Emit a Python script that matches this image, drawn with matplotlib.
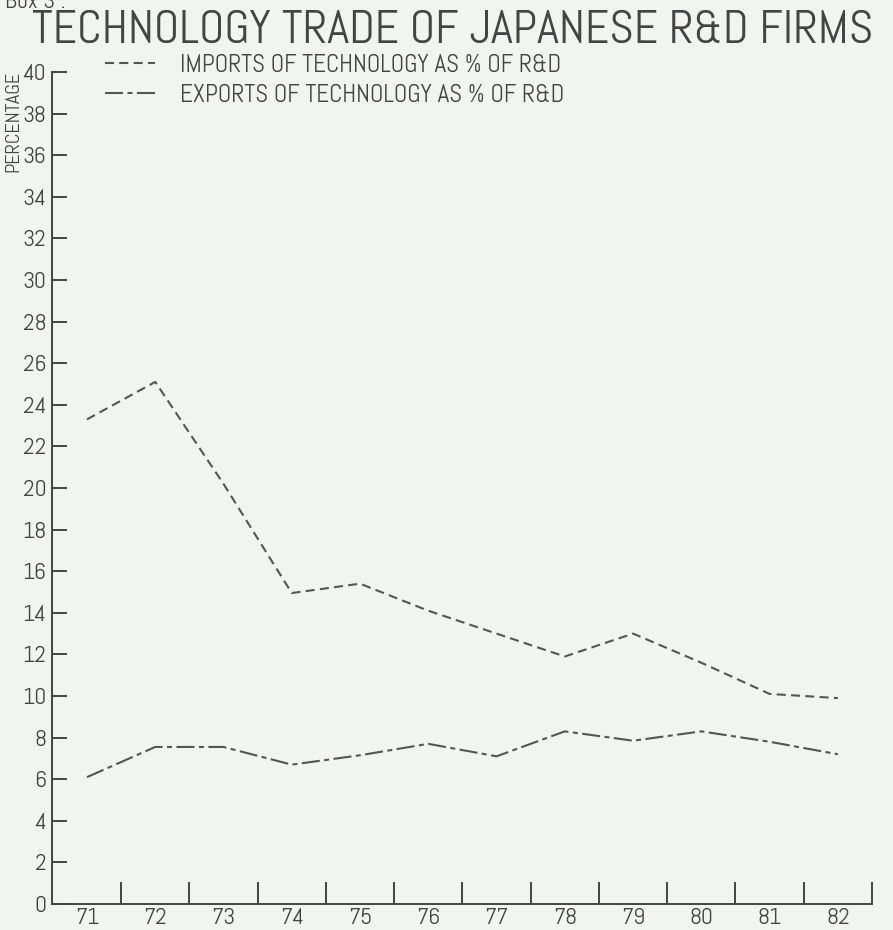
import matplotlib
matplotlib.use("Agg")
import matplotlib.pyplot as plt

# ---- data ----
years = [71, 72, 73, 74, 75, 76, 77, 78, 79, 80, 81, 82]
year_labels = ["71", "72", "73", "74", "75", "76", "77", "78", "79", "80", "81", "82"]
imports_pct = [23.3, 25.1, 20.2, 14.95, 15.4, 14.1, 13.0, 11.9, 13.0, 11.6, 10.1, 9.9]
exports_pct = [6.1, 7.55, 7.55, 6.7, 7.15, 7.7, 7.1, 8.3, 7.85, 8.3, 7.8, 7.2]
y_ticks = list(range(0, 41, 2))
title = "TECHNOLOGY TRADE OF JAPANESE R&D FIRMS"
label_imports = "IMPORTS OF TECHNOLOGY AS % OF R&D"
label_exports = "EXPORTS OF TECHNOLOGY AS % OF R&D"
y_label = "PERCENTAGE"

plt.rcParams["font.family"] = ["Abel", "Liberation Sans", "DejaVu Sans"]
plt.rcParams["lines.scale_dashes"] = False

ink = "#444444"
line_col = "#555555"
bg = "#f2f4ef"

W, H = 893, 930
fig = plt.figure(figsize=(W / 100, H / 100), dpi=100, facecolor=bg)

def fx(px):
    return px / W

def fy(py):
    return 1 - py / H

left, right, top, bottom = 52, 872, 72, 904
ax = fig.add_axes([fx(left), fy(bottom), fx(right) - fx(left), fy(top) - fy(bottom)])
ax.set_facecolor("none")

x_left = 71 - (87 - left) / 68.3
ax.set_xlim(x_left, 82.5)
ax.set_ylim(0, 40)

ln_imp, = ax.plot(years, imports_pct, color=line_col, lw=1.5, dashes=(6.5, 3.8),
                  label=label_imports, clip_on=False)
ln_exp, = ax.plot(years, exports_pct, color=line_col, lw=1.5, dashes=(13, 3.2, 3.6, 3.2),
                  label=label_exports, clip_on=False)

for s in ["top", "right"]:
    ax.spines[s].set_visible(False)
for s in ["left", "bottom"]:
    ax.spines[s].set_color(ink)
    ax.spines[s].set_linewidth(1.4)

ax.set_yticks(y_ticks)
ax.set_yticklabels([str(v) for v in y_ticks])
ax.tick_params(axis="y", direction="in", length=11, width=1.4, color=ink,
               labelsize=17, labelcolor=ink, pad=4)

ax.set_xticks(years)
ax.set_xticklabels(year_labels)
ax.set_xticks([y + 0.5 for y in years], minor=True)
ax.tick_params(axis="x", which="major", length=0, labelsize=17, labelcolor=ink, pad=3)
ax.tick_params(axis="x", which="minor", direction="in", length=16, width=1.4, color=ink)

fig.text(fx(13), fy(121), y_label, rotation=90, ha="center", va="center",
         fontsize=14.5, color=ink)

fig.text(fx(32), fy(43), title, ha="left", va="baseline", fontsize=34, color=ink)
fig.text(fx(5), fy(8), "Box 3 :", ha="left", va="baseline", fontsize=17, color=ink)

leg = ax.legend(handles=[ln_imp, ln_exp], loc="upper left",
                bbox_to_anchor=(fx(105), fy(54)), bbox_transform=fig.transFigure,
                frameon=False, fontsize=18, handlelength=2.0, handletextpad=1.0,
                labelspacing=0.28, borderpad=0, borderaxespad=0)
for t in leg.get_texts():
    t.set_color(ink)

fig.savefig("out.png", dpi=100, facecolor=bg)
